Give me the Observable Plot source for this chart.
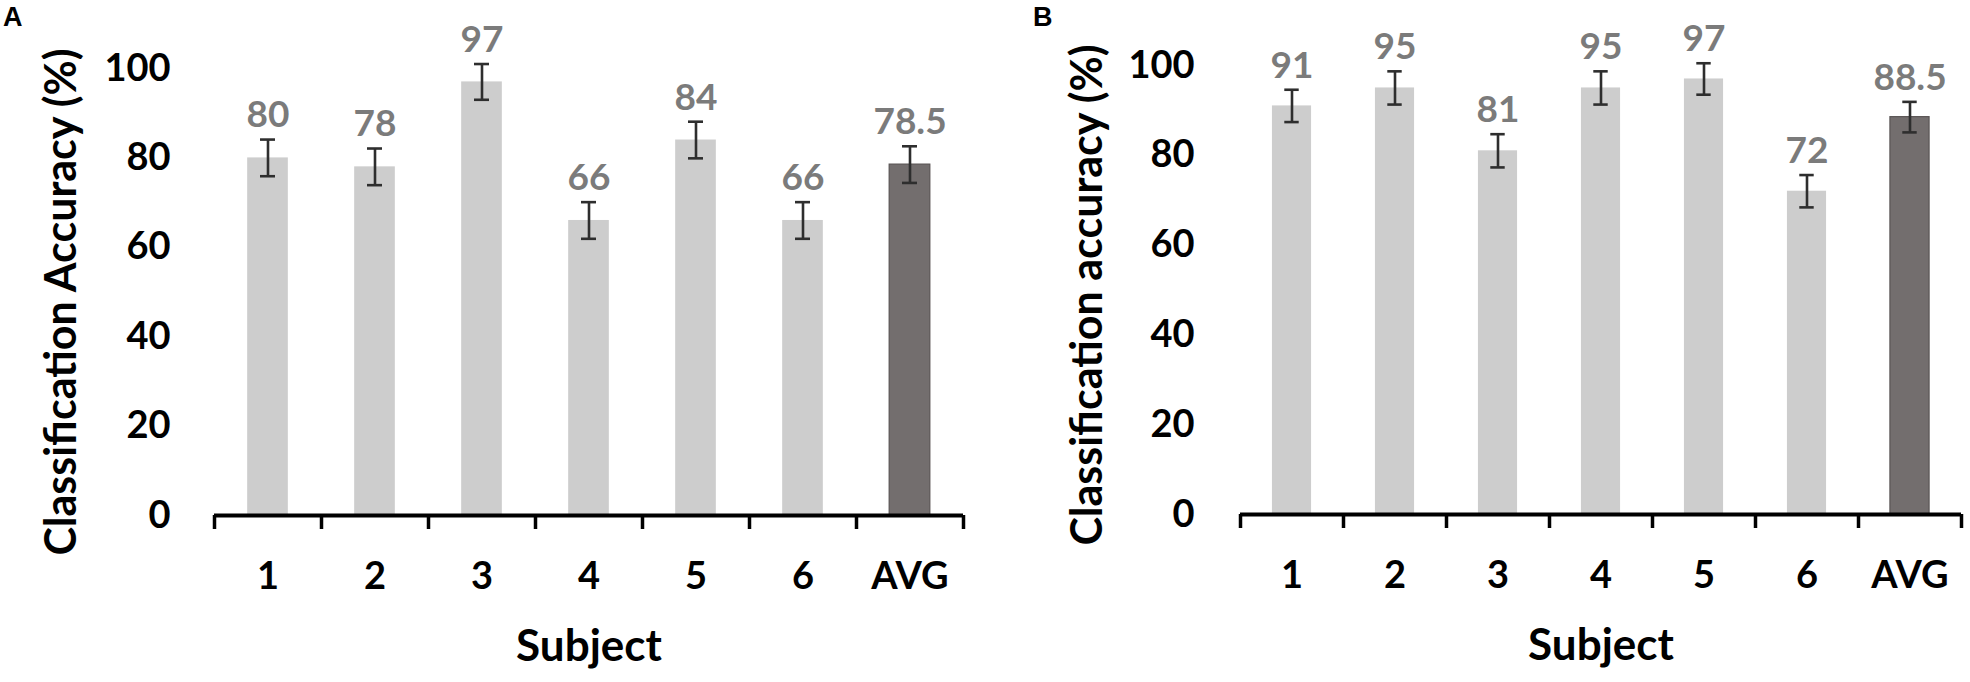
<!DOCTYPE html>
<html>
<head>
<meta charset="utf-8">
<script src="https://cdn.jsdelivr.net/npm/d3@7"></script>
<script src="https://cdn.jsdelivr.net/npm/@observablehq/plot@0.6"></script>
<style>
  html, body { margin: 0; padding: 0; background: #fff; }
  #wrap { position: relative; width: 1970px; height: 682px; display: flex; }
  .panel-letter { position: absolute; font-family: "Liberation Sans", Arial, sans-serif; font-weight: bold; font-size: 27px; line-height: 27px; color: #000; }
</style>
</head>
<body>
<div id="wrap">
  <div class="panel-letter" style="left:3px; top:4px;">A</div>
  <div class="panel-letter" style="left:1033px; top:4px;">B</div>
</div>
<script>
// ---- data ----
const categories = ["1", "2", "3", "4", "5", "6", "AVG"];
const accuracyA = [80, 78, 97, 66, 84, 66, 78.5];
const errorA = [4.1, 4.1, 4.0, 4.1, 4.1, 4.1, 4.1];
const accuracyB = [91, 95, 81, 95, 97, 72, 88.5];
const errorB = [3.6, 3.7, 3.7, 3.7, 3.5, 3.6, 3.4];
const yTicks = [0, 20, 40, 60, 80, 100];
const xLabel = "Subject";
const yLabelA = "Classification Accuracy (%)";
const yLabelB = "Classification accuracy (%)";

const LIGHT = "#cdcdcd";
const DARK = "#736e6e";
const FONT = "Lato, 'Open Sans', sans-serif";

function panel(values, errors, yLabel, cfg) {
  const table = categories.map((c, i) => ({i, cat: c, value: values[i], err: errors[i]}));
  const half = 0.19;
  const cap = 0.07;
  return Plot.plot({
    width: 985,
    height: 682,
    marginLeft: cfg.marginLeft,
    marginRight: cfg.marginRight,
    marginTop: cfg.marginTop,
    marginBottom: cfg.marginBottom,
    style: {background: "white", fontFamily: FONT, color: "#000", overflow: "visible"},
    x: {type: "linear", domain: [0, categories.length]},
    y: {domain: [0, 100]},
    marks: [
      Plot.rectY(table.filter(d => d.cat !== "AVG"), {
        x1: d => d.i + 0.5 - half, x2: d => d.i + 0.5 + half, y: "value", fill: LIGHT
      }),
      Plot.rectY(table.filter(d => d.cat === "AVG"), {
        x1: d => d.i + 0.5 - half, x2: d => d.i + 0.5 + half, y: "value", fill: DARK,
        stroke: "#5a5555", strokeWidth: 1.2
      }),
      Plot.ruleX(table, {
        x: d => d.i + 0.5, y1: d => d.value - d.err, y2: d => d.value + d.err,
        stroke: "#2e2e2e", strokeWidth: 2.6
      }),
      Plot.ruleY(table, {
        y: d => d.value + d.err, x1: d => d.i + 0.5 - cap, x2: d => d.i + 0.5 + cap,
        stroke: "#2e2e2e", strokeWidth: 2.6
      }),
      Plot.ruleY(table, {
        y: d => d.value - d.err, x1: d => d.i + 0.5 - cap, x2: d => d.i + 0.5 + cap,
        stroke: "#2e2e2e", strokeWidth: 2.6
      }),
      Plot.text(table, {
        x: d => d.i + 0.5, y: d => d.value + d.err, text: d => String(d.value),
        dy: -24, lineAnchor: "middle", fill: "#7b7b7b",
        fontSize: 37, fontWeight: "bold", fontFamily: FONT
      }),
      Plot.axisY(yTicks, {
        tickSize: 0, tickPadding: cfg.yTickPadding, label: null,
        fontSize: 38, fontWeight: "bold", fontFamily: FONT, fill: "#000"
      }),
      Plot.ruleY([0], {stroke: "#000", strokeWidth: 4}),
      Plot.axisX(d3.range(categories.length + 1), {
        tickSize: 14, strokeWidth: 3.5, stroke: "#000", tickFormat: () => "", label: null
      }),
      Plot.axisX(categories.map((c, i) => i + 0.5), {
        tickSize: 0, tickPadding: 47, label: null,
        tickFormat: d => categories[Math.floor(d)],
        fontSize: 38, fontWeight: "bold", fontFamily: FONT, fill: "#000"
      }),
      Plot.text([xLabel], {
        frameAnchor: "bottom", dy: 131, lineAnchor: "middle", textAnchor: "middle",
        fontSize: 44, fontWeight: "bold", fontFamily: FONT, fill: "#000"
      }),
      Plot.text([yLabel], {
        frameAnchor: "left", rotate: -90, dx: cfg.yLabelDx, dy: cfg.yLabelDy,
        lineAnchor: "middle", textAnchor: "middle",
        fontSize: 43, fontWeight: "bold", fontFamily: FONT, fill: "#000"
      })
    ]
  });
}

const wrap = document.getElementById("wrap");
wrap.appendChild(panel(accuracyA, errorA, yLabelA, {
  marginLeft: 214, marginRight: 22, marginTop: 68, marginBottom: 167,
  yTickPadding: 44, yLabelDx: -152, yLabelDy: 10
}));
wrap.appendChild(panel(accuracyB, errorB, yLabelB, {
  marginLeft: 255, marginRight: 9, marginTop: 65, marginBottom: 168,
  yTickPadding: 46, yLabelDx: -152, yLabelDy: 5
}));
</script>
</body>
</html>
